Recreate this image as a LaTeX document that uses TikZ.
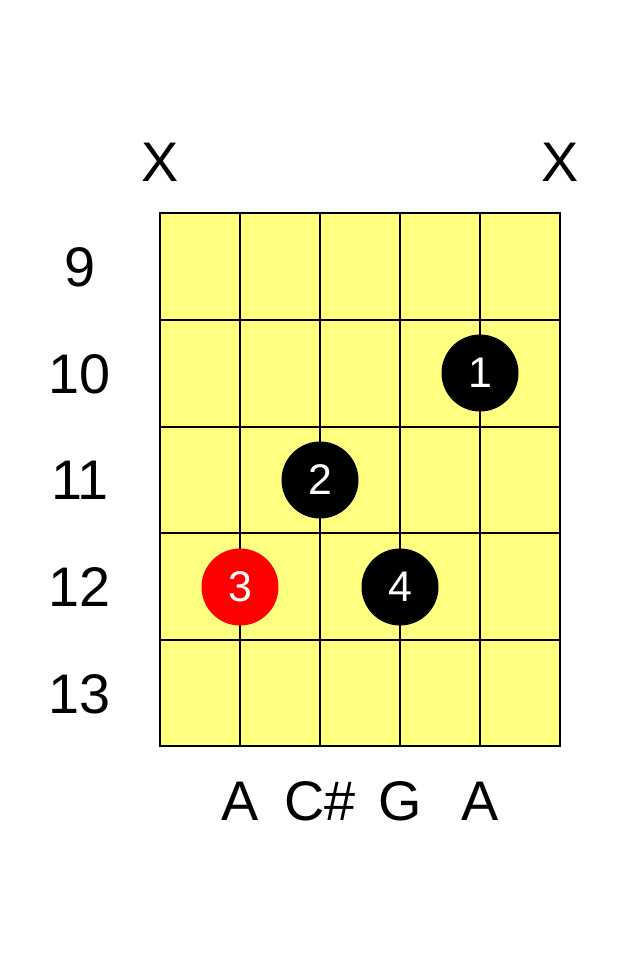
\documentclass[tikz,border=0pt]{standalone}
\usepackage{fontspec}
\setmainfont{Liberation Sans}
\usepackage{xcolor}
\definecolor{fretyellow}{RGB}{255,255,128}
\tikzset{label text/.style={font=\fontsize{56}{56}\selectfont, inner sep=0pt},
 fingerdot/.style={circle, fill=black, minimum size=77bp, inner sep=0pt,
   text=white, font=\fontsize{43}{43}\selectfont},
 rootdot/.style={fingerdot, fill=red},
 gridline/.style={line width=1.8bp},
 }

\begin{document}
\begin{tikzpicture}[x=1bp, y=-1bp]
    \useasboundingbox (0,0) rectangle (640,960);
    \fill[fretyellow] (160,213) rectangle (560,746);
    % strings and frets
    \foreach \sx in {240,320,400,480}
        \draw[gridline] (\sx,213) -- (\sx,746);
    \foreach \fy in {320,426.6,533.2,639.8}
        \draw[gridline] (160,\fy) -- (560,\fy);
    \draw[line width=2.8bp] (160,213) rectangle (560,746);
    % muted strings
    \node[label text] (mute1) at (160,162) {X};
    \node[label text] (mute6) at (560,162) {X};
    % fret numbers
    \node[label text] (fret9) at (80,267) {9};
    \node[label text] (fret10) at (80,374) {10};
    \node[label text] (fret11) at (80,480) {11};
    \node[label text] (fret12) at (80,587) {12};
    \node[label text] (fret13) at (80,694) {13};
    % fingers
    \node[fingerdot] (finger1) at (480,373) {1};
    \node[fingerdot] (finger2) at (320,480) {2};
    \node[rootdot] (finger3) at (240,587) {3};
    \node[fingerdot] (finger4) at (400,587) {4};
    % note names
    \node[label text] (note2) at (240,801) {A};
    \node[label text] (note3) at (320,801) {C\#};
    \node[label text] (note4) at (400,801) {G};
    \node[label text] (note5) at (480,801) {A};
\end{tikzpicture}
\end{document}
